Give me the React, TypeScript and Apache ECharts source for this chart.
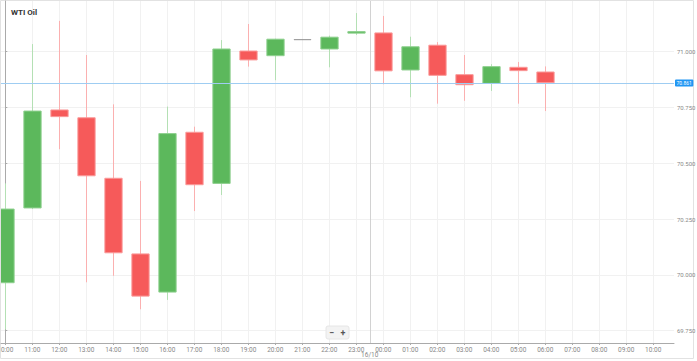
import React, { useEffect, useRef } from "react";
import * as echarts from "echarts";

const hourLabels = [
  "10:00", "11:00", "12:00", "13:00", "14:00", "15:00", "16:00", "17:00", "18:00",
  "19:00", "20:00", "21:00", "22:00", "23:00", "00:00", "01:00", "02:00", "03:00",
  "04:00", "05:00", "06:00", "07:00", "08:00", "09:00", "10:00",
];

const opens = [
  69.965, 70.3, 70.739, 70.704, 70.433, 70.094, 69.923, 70.639, 70.41, 71.003, 70.982,
  71.056, 71.012, 71.083, 71.084, 70.918, 71.029, 70.897, 70.858, 70.93, 70.909,
];
const closes = [
  70.295, 70.734, 70.709, 70.444, 70.099, 69.905, 70.633, 70.404, 71.012, 70.963, 71.056,
  71.056, 71.065, 71.09, 70.914, 71.022, 70.894, 70.852, 70.933, 70.915, 70.861,
];
const highs = [
  70.41, 71.034, 71.138, 70.985, 70.764, 70.421, 70.754, 70.664, 71.052, 71.124, 71.058,
  71.056, 71.072, 71.173, 71.16, 71.067, 71.043, 70.985, 70.944, 70.954, 70.934,
];
const lows = [
  69.756, 70.295, 70.563, 69.967, 69.996, 69.846, 69.888, 70.286, 70.358, 70.933, 70.872,
  71.056, 70.93, 71.075, 70.854, 70.796, 70.767, 70.78, 70.824, 70.767, 70.734,
];

const yTicks = [69.75, 70.0, 70.25, 70.5, 70.75, 71.0];
const currentPrice = 70.861;
const dayBreak = 13.5;
const dayLabel = "16/10";
const title = "WTI Oil";

const FONT = "Roboto, Arial, sans-serif";

export default function App() {
  const ref = useRef<HTMLDivElement>(null);

  useEffect(() => {
    if (!ref.current) return;
    const chart = echarts.init(ref.current, undefined, { renderer: "svg" });
    const data = opens.map((_, i) => [i, opens[i], closes[i], lows[i], highs[i]]);
    const xTicks = hourLabels.map((_, i) => i);

    chart.setOption({
      animation: false,
      backgroundColor: "#ffffff",
      textStyle: { fontFamily: FONT },
      title: {
        text: title,
        left: 6,
        top: 3,
        textStyle: { fontSize: 8, fontWeight: "bold", color: "#333", fontFamily: FONT },
      },
      grid: { left: 1, right: 23, top: 1, bottom: 18, containLabel: false, outerBoundsMode: "none" },
      xAxis: {
        type: "value",
        min: -0.16,
        max: 24.77,
        axisLine: { show: true, lineStyle: { color: "#aaa" } },
        axisTick: { show: true, length: 2, customValues: xTicks, lineStyle: { color: "#aaa" } },
        axisLabel: {
          customValues: xTicks,
          formatter: (v: number) => hourLabels[Math.round(v)] ?? "",
          fontSize: 6.5,
          color: "#888",
          margin: 3,
          fontFamily: FONT,
          hideOverlap: false,
        },
        splitLine: { show: true, lineStyle: { color: "#f1f1f1", width: 1 } },
      },
      yAxis: {
        type: "value",
        position: "right",
        min: 69.695,
        max: 71.227,
        scale: true,
        axisLine: { show: true, lineStyle: { color: "#aaa" } },
        axisTick: { show: true, length: 2, customValues: yTicks, lineStyle: { color: "#aaa" } },
        axisLabel: {
          customValues: yTicks,
          formatter: (v: number) => v.toFixed(3),
          fontSize: 6,
          color: "#888",
          margin: 3,
          fontFamily: FONT,
        },
        splitLine: { show: true, lineStyle: { color: "#f1f1f1", width: 1 } },
      },
      series: [
        {
          type: "custom",
          clip: true,
          encode: { x: 0, y: [1, 2, 3, 4] },
          data,
          renderItem: (params: any, api: any) => {
            const x = api.value(0);
            const o = api.value(1);
            const c = api.value(2);
            const l = api.value(3);
            const h = api.value(4);
            const pO = api.coord([x, o]);
            const pC = api.coord([x, c]);
            const pL = api.coord([x, l]);
            const pH = api.coord([x, h]);
            const w = api.size([1, 0])[0] * 0.64;
            const flat = Math.abs(c - o) < 1e-9;
            const up = c > o;
            const fill = flat ? "#8c8c8c" : up ? "#5cb85c" : "#f65a5a";
            const edge = flat ? "#8c8c8c" : up ? "#8fd08f" : "#fa9a9a";
            const wick = flat ? "#aaaaaa" : up ? "#b4e0b4" : "#fbb0b0";
            const top = Math.min(pO[1], pC[1]);
            const bh = Math.max(Math.abs(pO[1] - pC[1]), 1);
            const cx = Math.round(pO[0]) + 0.5;
            return {
              type: "group",
              children: [
                {
                  type: "line",
                  shape: { x1: cx, y1: pH[1], x2: cx, y2: pL[1] },
                  style: { stroke: wick, lineWidth: 1 },
                },
                {
                  type: "rect",
                  shape: { x: cx - w / 2, y: top, width: w, height: bh },
                  style: flat
                    ? { fill, stroke: null }
                    : { fill, stroke: edge, lineWidth: 1 },
                },
              ],
            };
          },
          markLine: {
            silent: true,
            symbol: "none",
            animation: false,
            lineStyle: { color: "#9fcdf2", width: 1, type: "solid", opacity: 1 },
            data: [
              {
                yAxis: currentPrice,
                lineStyle: { color: "#9fcdf2", width: 1, type: "solid", opacity: 1 },
                label: {
                  show: true,
                  position: "end",
                  distance: 1,
                  formatter: currentPrice.toFixed(3),
                  backgroundColor: "#2196f3",
                  color: "#fff",
                  fontSize: 5,
                  padding: [1, 1.5, 1, 1.5],
                  borderRadius: 1,
                  fontFamily: FONT,
                },
              },
              {
                xAxis: dayBreak,
                lineStyle: { color: "#d2d2d2", width: 1, type: "solid", opacity: 1 },
                label: {
                  show: true,
                  position: "start",
                  distance: 8,
                  formatter: dayLabel,
                  color: "#888",
                  fontSize: 6.5,
                  fontFamily: FONT,
                },
              },
            ],
          },
        },
      ],
      graphic: [
        {
          type: "rect",
          shape: { x: 0.5, y: 0.5, width: 693, height: 358 },
          style: { fill: "none", stroke: "#e2e2e2", lineWidth: 1 },
          silent: true,
          z: -1,
        },
        {
          type: "rect",
          shape: { x: 326, y: 326, width: 23, height: 13, r: 2 },
          style: { fill: "#f3f3f3", stroke: "#e6e6e6", lineWidth: 1 },
          z: 100,
        },
        {
          type: "text",
          x: 331.5,
          y: 332.5,
          style: {
            text: "−",
            fontSize: 9,
            fontWeight: "bold",
            fill: "#555",
            align: "center",
            verticalAlign: "middle",
            fontFamily: FONT,
          },
          z: 101,
        },
        {
          type: "text",
          x: 343,
          y: 332.5,
          style: {
            text: "+",
            fontSize: 9,
            fontWeight: "bold",
            fill: "#555",
            align: "center",
            verticalAlign: "middle",
            fontFamily: FONT,
          },
          z: 101,
        },
      ],
    });

    return () => chart.dispose();
  }, []);

  return (
    <div
      ref={ref}
      style={{ position: "absolute", left: 0, top: 0, width: 697, height: 361, background: "#fff" }}
    />
  );
}
